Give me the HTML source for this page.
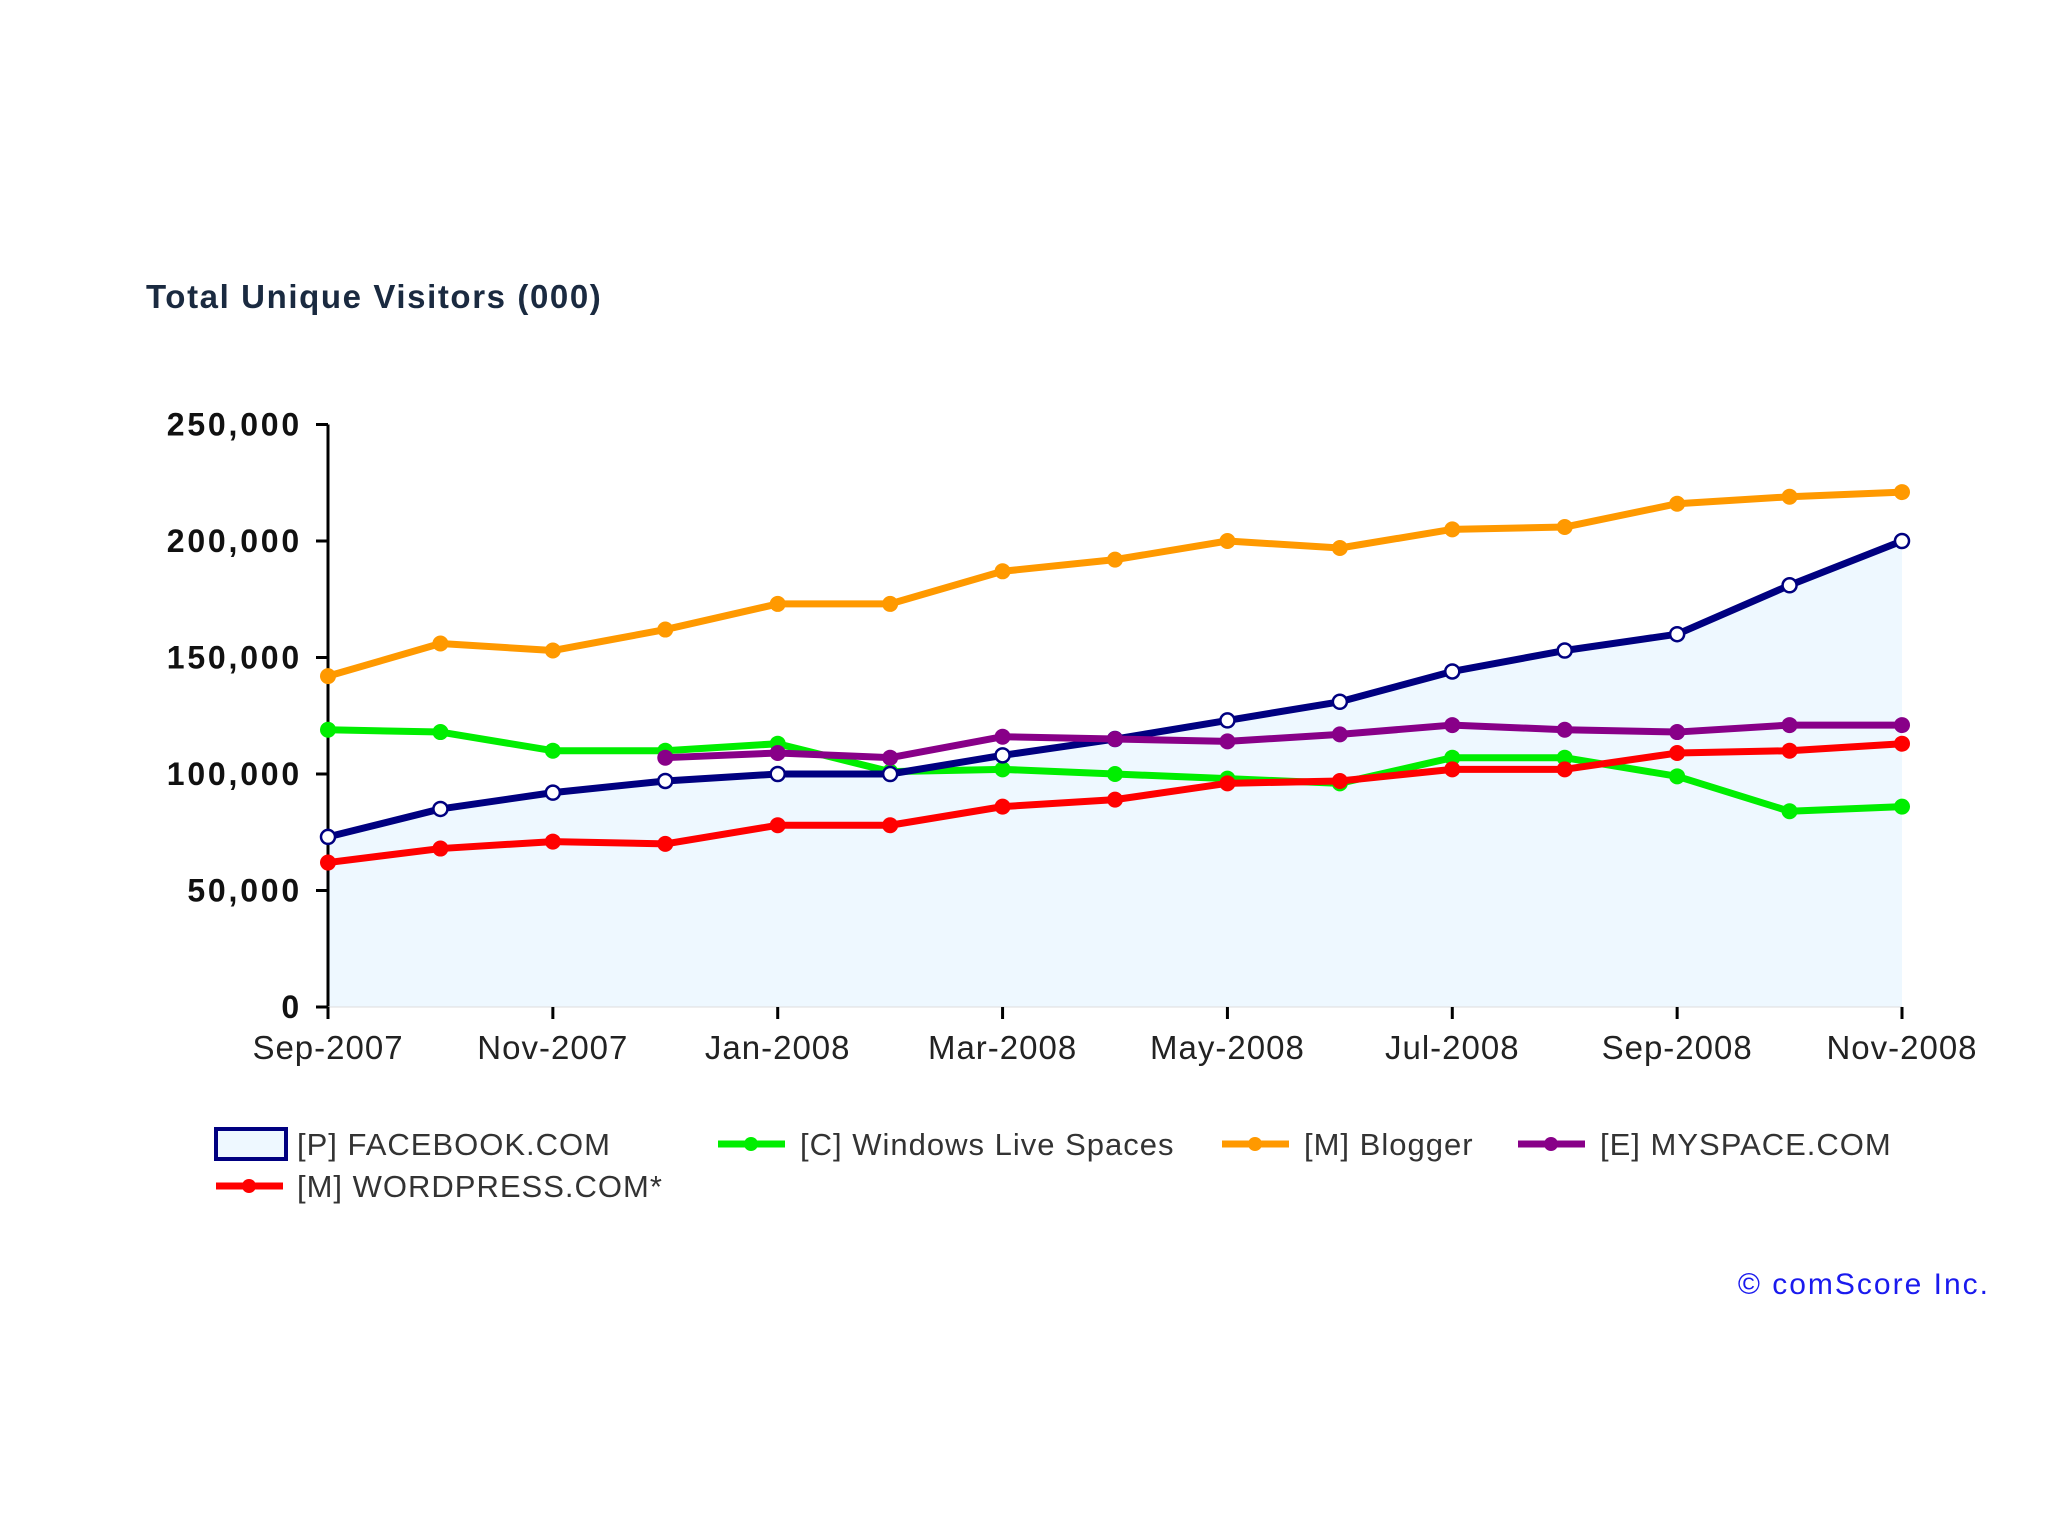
<!DOCTYPE html>
<html><head><meta charset="utf-8"><style>
html,body{margin:0;padding:0;background:#fff;}
svg{display:block;font-family:"Liberation Sans",sans-serif;}
</style></head><body>
<svg id="chart" width="2048" height="1536" viewBox="0 0 2048 1536">
<text x="146" y="308" font-size="33" font-weight="bold" letter-spacing="1.6" fill="#1a2a40">Total Unique Visitors (000)</text>
<g id="plot"></g>
<g font-size="31" fill="#333" letter-spacing="1">
 <g><rect x="216" y="1129" width="70" height="30" fill="#eef8ff" stroke="#000080" stroke-width="4"/><text x="297" y="1155">[P] FACEBOOK.COM</text></g>
 <g><line x1="718" y1="1144" x2="785" y2="1144" stroke="#00ee00" stroke-width="7"/><circle cx="751" cy="1144" r="7" fill="#00ee00"/><text x="800" y="1155">[C] Windows Live Spaces</text></g>
 <g><line x1="1222" y1="1144" x2="1289" y2="1144" stroke="#ff9900" stroke-width="7"/><circle cx="1255" cy="1144" r="7" fill="#ff9900"/><text x="1304" y="1155">[M] Blogger</text></g>
 <g><line x1="1518" y1="1144" x2="1585" y2="1144" stroke="#880088" stroke-width="7"/><circle cx="1551" cy="1144" r="7" fill="#880088"/><text x="1600" y="1155">[E] MYSPACE.COM</text></g>
 <g><line x1="216" y1="1186" x2="283" y2="1186" stroke="#ff0000" stroke-width="7"/><circle cx="249" cy="1186" r="7" fill="#ff0000"/><text x="297" y="1197">[M] WORDPRESS.COM*</text></g>
</g>
<text x="1990" y="1294" font-size="30" letter-spacing="2" fill="#1a1aee" text-anchor="end">© comScore Inc.</text>
</svg>
<script>
const months = ["Sep-2007","Oct-2007","Nov-2007","Dec-2007","Jan-2008","Feb-2008","Mar-2008","Apr-2008","May-2008","Jun-2008","Jul-2008","Aug-2008","Sep-2008","Oct-2008","Nov-2008"];
const xTickLabels = ["Sep-2007","Nov-2007","Jan-2008","Mar-2008","May-2008","Jul-2008","Sep-2008","Nov-2008"];
const yTicks = [0,50000,100000,150000,200000,250000];
const facebook = [73,85,92,97,100,100,108,115,123,131,144,153,160,181,200];
const windowsLive = [119,118,110,110,113,101,102,100,98,96,107,107,99,84,86];
const blogger = [142,156,153,162,173,173,187,192,200,197,205,206,216,219,221];
const myspace = [null,null,null,107,109,107,116,115,114,117,121,119,118,121,121];
const wordpress = [62,68,71,70,78,78,86,89,96,97,102,102,109,110,113];

const NS="http://www.w3.org/2000/svg";
const plot=document.getElementById('plot');
const x0=328,x1=1902,y0=1007,yTop=424.5;
const xs=i=>x0+(x1-x0)*i/(months.length-1);
const ys=v=>y0-(y0-yTop)*v/250000;
function mk(t,a){const e=document.createElementNS(NS,t);for(const k in a)e.setAttribute(k,a[k]);plot.appendChild(e);return e;}

let d="M"+xs(0)+","+y0;
facebook.forEach((v,i)=>{d+=" L"+xs(i)+","+ys(v*1000);});
d+=" L"+xs(facebook.length-1)+","+y0+" Z";
const area=mk('path',{d:d,fill:'#eef8ff'});



const ya=mk('line',{x1:x0,y1:yTop,x2:x0,y2:y0+4,stroke:'#000','stroke-width':3});


const xa=mk('line',{x1:x0,y1:y0,x2:x1,y2:y0,stroke:'#ddd','stroke-width':1});


yTicks.forEach(v=>{
  const tk=mk('line',{x1:x0-12,y1:ys(v),x2:x0,y2:ys(v),stroke:'#000','stroke-width':3});
  
  
  const t=mk('text',{x:x0-26,y:ys(v)+11,'font-size':32,'font-weight':'bold','letter-spacing':2.8,'text-anchor':'end',fill:'#111'});
  t.textContent=v.toLocaleString('en-US');
  
  
});
xTickLabels.forEach(lbl=>{
  const i=months.indexOf(lbl);
  const tk=mk('line',{x1:xs(i),y1:y0,x2:xs(i),y2:y0+12,stroke:'#000','stroke-width':3});
  
  
  const t=mk('text',{x:xs(i),y:y0+52,'font-size':33,'letter-spacing':1,'text-anchor':'middle',fill:'#222'});
  t.textContent=lbl;
  
  
});

function series(vals,color,name,hollow){
  let p="";
  vals.forEach((v,i)=>{if(v==null)return;p+=(p?" L":"M")+xs(i)+","+ys(v*1000);});
  const l=mk('path',{d:p,fill:'none',stroke:color,'stroke-width':7,'stroke-linejoin':'round'});
  
  
  vals.forEach((v,i)=>{if(v==null)return;
    const c=mk('circle',{cx:xs(i),cy:ys(v*1000),r:hollow?7:8,fill:hollow?'#fff':color,stroke:hollow?color:'none','stroke-width':2.5});
    
    
  });
}
series(blogger,'#ff9900','blogger',false);
series(windowsLive,'#00ee00','windows-live',false);
series(facebook,'#000080','facebook',true);
series(myspace,'#880088','myspace',false);
series(wordpress,'#ff0000','wordpress',false);
</script>
</body></html>
